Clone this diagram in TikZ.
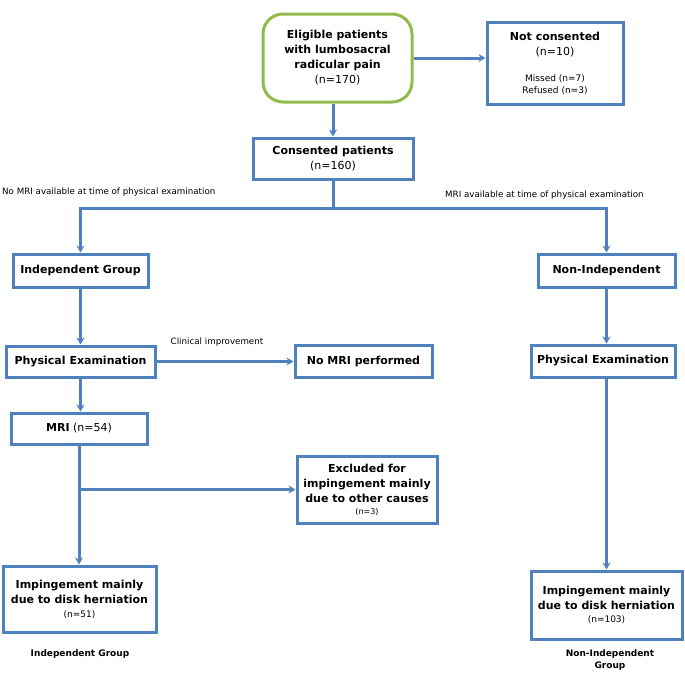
\documentclass[tikz,border=0pt]{standalone}
\usepackage{fontspec}
\setmainfont{DejaVu Sans}
\usetikzlibrary{arrows.meta}

\definecolor{boxblue}{RGB}{79,129,189}
\definecolor{startgreen}{RGB}{146,186,76}

\tikzset{
  box/.style={draw=boxblue, line width=3pt, fill=white, align=center, inner sep=1pt,
    font=\fontsize{11}{15}\selectfont},
  flow/.style={draw=boxblue, line width=3pt, -{Stealth[length=7pt,width=8pt]}},
  plain/.style={draw=boxblue, line width=3pt},
  note/.style={font=\fontsize{8.7}{11}\selectfont, inner sep=0pt},
}
\newcommand{\smalln}[1]{{\fontsize{9}{12}\selectfont #1}}

\begin{document}
\begin{tikzpicture}[x=1pt,y=-1pt]
    \useasboundingbox (0,0) rectangle (685,683);
    % top of the chart
    \node[box, draw=startgreen, rounded corners=20pt, minimum width=149, minimum height=88]
      (elig) at (337.5,58) {\textbf{Eligible patients}\\\textbf{with lumbosacral}\\\textbf{radicular pain}\\(n=170)};
    \node[box, minimum width=136, minimum height=82] (notcons) at (555,63)
      {\textbf{Not consented}\\(n=10)\\[11pt]\smalln{Missed (n=7)}\\[-3pt]\smalln{Refused (n=3)}};
    \node[box, minimum width=160, minimum height=41] (cons) at (333,158.5)
      {\textbf{Consented patients}\\(n=160)};
    \coordinate (split) at (333,208);
    \node[note, anchor=west] (nomrilabel) at (2,192) {No MRI available at time of physical examination};
    \node[note, anchor=west] (mrilabel) at (445,195) {MRI available at time of physical examination};
    % two groups
    \node[box, minimum width=135, minimum height=33] (indep) at (80.5,270.5) {\textbf{Independent Group}};
    \node[box, minimum width=137, minimum height=33] (nonindep) at (606.5,270.5) {\textbf{Non-Independent}};
    \node[box, minimum width=149, minimum height=31] (physl) at (80.5,361.5) {\textbf{Physical Examination}};
    \node[box, minimum width=144, minimum height=32] (physr) at (603,361) {\textbf{Physical Examination}};
    \node[box, minimum width=137, minimum height=32] (nomri) at (363.5,361.5) {\textbf{No MRI performed}};
    \node[note] (improv) at (217,342) {Clinical improvement};
    \node[box, minimum width=136, minimum height=31] (mri) at (79,428.5) {\textbf{MRI} (n=54)};
    \node[box, minimum width=140, minimum height=67] (excl) at (367,489.5)
      {\textbf{Excluded for}\\\textbf{impingement mainly}\\\textbf{due to other causes}\\[-3pt]{\fontsize{8}{10}\selectfont (n=3)}};
    \node[box, minimum width=153, minimum height=66] (herl) at (79.5,599)
      {\textbf{Impingement mainly}\\\textbf{due to disk herniation}\\[-1pt]\smalln{(n=51)}};
    \node[box, minimum width=151, minimum height=68] (herr) at (606.5,605)
      {\textbf{Impingement mainly}\\\textbf{due to disk herniation}\\[-2pt]\smalln{(n=103)}};
    \node[note, font=\fontsize{9}{11}\selectfont\bfseries] (capl) at (80,654) {Independent Group};
    \node[note, font=\fontsize{9}{12}\selectfont\bfseries, align=center] (capr) at (610,660) {Non-Independent\\Group};

    % connectors
    \draw[flow] (elig.east) -- (elig.east -| notcons.west);
    \draw[flow] (cons.north |- elig.south) -- (cons.north);
    \draw[plain] (cons.south) -- (split);
    \draw[flow] (split) -| (indep.north);
    \draw[flow] (split) -| (nonindep.north);
    \draw[flow] (indep.south) -- (indep.south |- physl.north);
    \draw[flow] (physl.east) -- (nomri.west);
    \draw[flow] (physl.south) -- (physl.south |- mri.north);
    \coordinate (mribranch) at (mri.south |- excl.west);
    \draw[flow] (mri.south) -- (mri.south |- herl.north);
    \draw[flow] (mribranch) -- (excl.west);
    \draw[flow] (nonindep.south) -- (nonindep.south |- physr.north);
    \draw[flow] (herr.north |- physr.south) -- (herr.north);
\end{tikzpicture}
\end{document}
